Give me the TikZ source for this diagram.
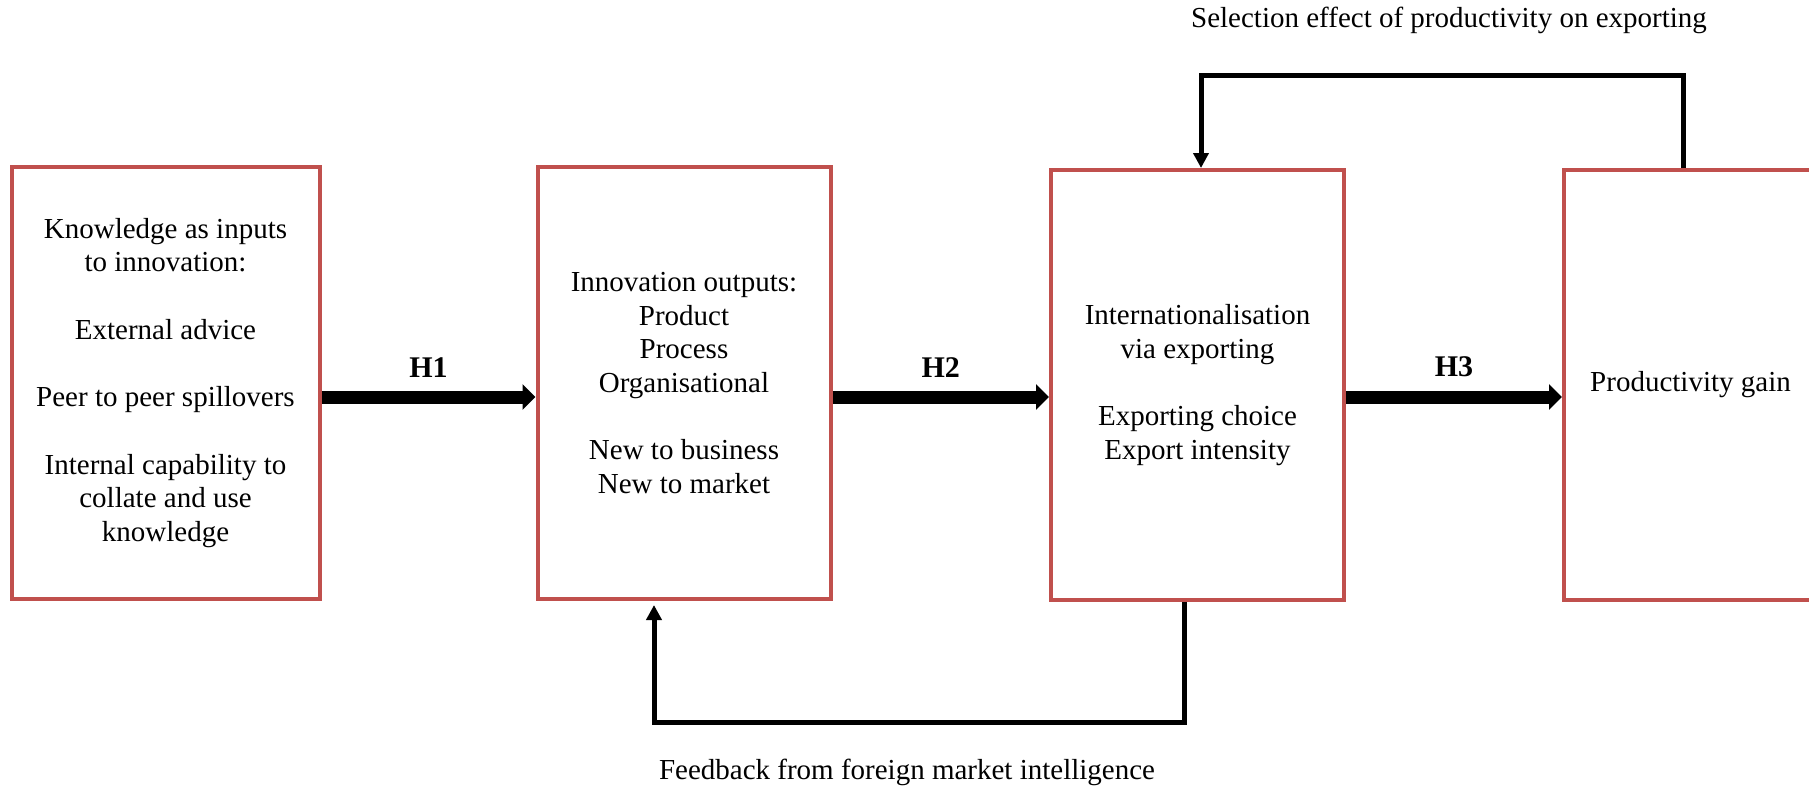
\documentclass[tikz,border=0pt]{standalone}
\usepackage{fontspec}
\setmainfont{Liberation Serif}
\usetikzlibrary{arrows.meta}
\definecolor{boxred}{RGB}{192,80,77}
\begin{document}
\begin{tikzpicture}[x=1pt,y=-1pt,
  mybox/.style={draw=boxred, line width=4pt, rectangle, align=center,
    font=\fontsize{29}{33.5}\selectfont, inner sep=0pt},
  bigarrow/.style={line width=13pt, -{Triangle[length=13pt,width=25pt]}},
  fbarrow/.style={line width=5pt, -{Triangle[length=15pt,width=15pt]}},
  lbl/.style={font=\fontsize{29}{33.5}\selectfont},
  hlbl/.style={font=\fontsize{30}{34}\selectfont\bfseries}
]
\useasboundingbox (0,0) rectangle (1809,793);
\fill[white] (0,0) rectangle (1809,793);
\begin{scope}
\clip (0,0) rectangle (1809,793);
\node[mybox, minimum width=308pt, minimum height=432pt] (b1) at (165.5,383)
  {Knowledge as inputs\\to innovation:\\[34pt]External advice\\[34pt]Peer to peer spillovers\\[34pt]Internal capability to\\collate and use\\knowledge};
\node[mybox, minimum width=293pt, minimum height=432pt] (b2) at (684,383)
  {Innovation outputs:\\Product\\Process\\Organisational\\[34pt]New to business\\New to market};
\node[mybox, minimum width=293pt, minimum height=430pt] (b3) at (1197.5,385)
  {Internationalisation\\via exporting\\[34pt]Exporting choice\\Export intensity};
\node[mybox, minimum width=253pt, minimum height=430pt] (b4) at (1690.5,385)
  {Productivity gain};
\end{scope}

\draw[bigarrow] ([yshift=-14pt]b1.east) -- node[midway, above=10pt, hlbl] (h1) {H1} ([yshift=-14pt]b2.west);
\draw[bigarrow] ([yshift=-14pt]b2.east) -- node[midway, above=10pt, hlbl] (h2) {H2} ([yshift=-12pt]b3.west);
\draw[bigarrow] ([yshift=-12pt]b3.east) -- node[midway, above=10pt, hlbl] (h3) {H3} ([yshift=-12pt]b4.west);

\coordinate (t1) at (1683,75);
\coordinate (t2) at (1201,75);
\draw[fbarrow] (b4.north -| t1) -- (t1) -- (t2) -- (b3.north -| t2);

\coordinate (f1) at (1184,722);
\coordinate (f2) at (654,722);
\draw[fbarrow, shorten >=4pt] (b3.south -| f1) -- (f1) -- (f2) -- (b2.south -| f2);

\node[lbl] (toplbl) at (1449,20) {Selection effect of productivity on exporting};
\node[lbl] (botlbl) at (907,772) {Feedback from foreign market intelligence};
\end{tikzpicture}
\end{document}
